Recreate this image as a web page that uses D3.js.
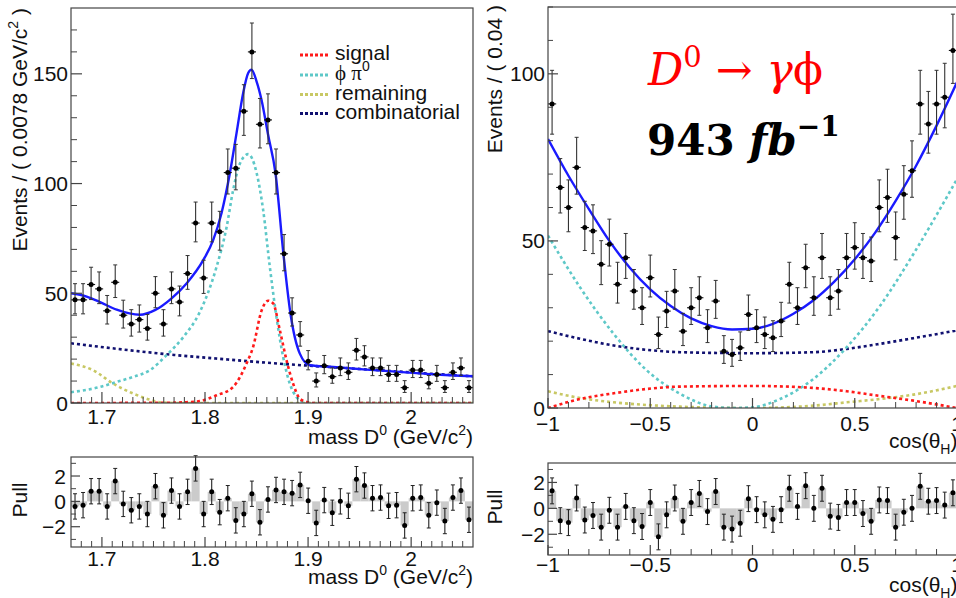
<!DOCTYPE html>
<html><head><meta charset="utf-8">
<script src="https://cdn.jsdelivr.net/npm/d3@7"></script>
<style>
body{margin:0;background:#fff}
svg{display:block}
text{font-family:"Liberation Sans",Arial,sans-serif;fill:#111}
</style>
</head><body><svg id="c" width="956" height="598"></svg>
<script>
// ---------------- DATA ----------------
const massRange = [1.67, 2.06];
const massCounts = [47,47,54,52,42,55,40,36,38,34,50,36,52,46,59,82,57,82,78,105,107,133,160,127,129,105,68,41,31,19,10,17,12,16,14,24,21,16,16,13,13,7,15,15,9,13,7,14,16,7];
const massPulls = [-0.4,-0.3,0.8,0.8,-0.4,1.6,-0.2,-0.7,-0.4,-1.0,1.2,-1.1,0.85,-0.4,0.75,2.6,-1.0,0.75,-0.85,0.25,-1.5,-1.0,0.6,-1.65,0.15,0.9,0.75,0.65,1.3,0.05,-1.7,0.1,-0.9,0,-0.35,1.75,1.25,0.25,0.3,-0.35,-0.3,-1.9,0.25,0.3,-1.1,-0.1,-1.55,0.3,0.85,-1.45];

const massTotalX = [1.670,1.6852,1.6981,1.7143,1.7369,1.7514,1.7673,1.7821,1.7983,1.8080,1.8160,1.8241,1.8306,1.8370,1.8419,1.8451,1.8500,1.8548,1.8613,1.8684,1.8761,1.8829,1.8920,1.9017,1.9243,1.9566,1.9889,2.0212,2.0600];
const massTotalY = [50,48.5,46,42.5,40.2,42.3,47.6,54.5,65.1,74.3,86.5,104.7,123,141.2,150.4,151.9,146.6,138.2,122,104.7,67.9,40.8,22.5,17.2,16.4,15.2,14.2,13.1,12.2];
const massPhiPiX = [1.670,1.6981,1.7143,1.7304,1.7466,1.7627,1.7789,1.7950,1.8112,1.8209,1.8273,1.8338,1.8419,1.8500,1.8564,1.8629,1.8694,1.8758,1.8823,1.8887,1.8952,1.9017,2.06];
const massPhiPiY = [4.9,7.3,9.6,11.9,15,21.8,30,41.5,62,80,97,109,113.4,105,88,62,39,21,8.8,2.7,0.5,0,0];
const massSignalX = [1.67,1.7627,1.7789,1.7950,1.8112,1.8273,1.8403,1.8467,1.8548,1.8613,1.8661,1.8726,1.8791,1.8855,1.8920,1.8985,1.9049,2.06];
const massSignalY = [0,0.1,0.3,0.9,3.5,7.3,18,25.6,42,46.6,45.4,33.2,19.5,8.8,2,0.5,0,0];
const massRemX = [1.67,1.6916,1.711,1.7304,1.7466,1.759,1.775,2.06];
const massRemY = [18,14.9,8.8,4.3,1.5,0.2,0,0];
const massCombX = [1.67,1.72,1.77,1.82,1.87,1.92,1.97,2.02,2.06];
const massCombY = [27.2,24.4,21.9,19.9,18.0,16.4,14.9,13.3,12.2];

const cosRange = [-1, 1];
const cosCounts = [91,66,60,72,54,53,43,49,37,45,35,30,39,22,29,35,23,30,33,24,32,17,16,18,28,24,22,21,26,37,30,42,33,45,33,35,45,48,45,44,60,63,51,64,71,91,85,91,93,107];
const cosPulls = [1.35,-0.95,-1.1,0.8,-0.9,-0.55,-1.45,-0.15,-1.45,0.15,-0.95,-1.4,0.45,-2.2,-0.5,0.8,-1.0,0.45,1.15,-0.25,1.3,-1.45,-1.6,-1.15,0.75,-0.1,-0.5,-0.85,-0.1,1.55,0.15,1.75,0,1.55,-0.6,-0.7,0.45,0.45,-0.4,-1.0,0.65,0.6,-1.45,-0.3,0,1.7,0.55,0.6,0.25,1.2];

const cosTotalX = [-1,-0.9,-0.8,-0.7,-0.6,-0.5,-0.4,-0.3,-0.2,-0.1,0,0.1,0.2,0.3,0.4,0.5,0.6,0.7,0.8,0.9,1];
const cosTotalY = [80.5,69.5,59.5,50,42,35.5,30.5,26.8,24.5,23.5,23.7,25.2,28.2,32.3,37.8,44.5,52.5,62,72.5,84.5,97.5];
const cosPhiPiX = [-1,-0.842,-0.679,-0.516,-0.353,-0.191,-0.09,0,0.135,0.298,0.461,0.624,0.787,0.95,1];
const cosPhiPiY = [51.6,36,22.2,11.2,4.2,0.4,0,0.2,2.7,8.7,18.2,30.6,46.1,63.1,68.5];
const cosCompX = [-1,-0.842,-0.679,-0.516,-0.353,0,0.298,0.461,0.624,0.787,1];
const cosCombY = [23,20.7,18.7,17.4,16.7,16.4,16.7,17.7,19.2,20.9,23.2];
const cosSignalY = [0,2.7,4.4,5.7,6.4,6.6,6,5,3.6,2.2,0];
const cosRemY = [5,3,1.7,0.9,0.4,0,0.7,1.7,2.7,4,6.6];

const massMajor = [1.7,1.8,1.9,2.0];
const massMajorLabels = ["1.7","1.8","1.9","2"];
const cosMajor = [-1,-0.5,0,0.5,1];
const cosMajorLabels = ["\u22121","\u22120.5","0","0.5","1"];
const pullMajor = [-2,0,2];
const pullLabels = ["\u22122","0","2"];

const legendNames = ["signal","phipi","remaining","combinatorial"];
const colors = {signal:"#ff1a1a", phipi:"#5ec8c8", remaining:"#c8c864", combinatorial:"#101070", total:"#1a1aff"};

// ---------------- DRAW ----------------
const svg = d3.select("#c");
let clipId = 0;

function panel(o){
  const x = d3.scaleLinear().domain(o.xDom).range([o.x0, o.x1]);
  const y = d3.scaleLinear().domain(o.yDom).range([o.yBot, o.yTop]);
  const g = svg.append("g");
  const id = "clip" + (clipId++);
  svg.append("clipPath").attr("id", id).append("rect")
    .attr("x", o.x0).attr("y", o.yTop).attr("width", o.x1 - o.x0).attr("height", o.yBot - o.yTop);
  const plot = g.append("g").attr("clip-path", `url(#${id})`);
  return {x, y, g, plot, o};
}

function frame(p, yMinor, yMajor, yLabels, xMinor, xMajor, xLabels, yLen, xLen, yLabX, xLabY){
  const {x, y, g, o} = p;
  const ax = g.append("g");
  ax.append("rect").attr("x", o.x0).attr("y", o.yTop).attr("width", o.x1 - o.x0).attr("height", o.yBot - o.yTop)
    .attr("fill", "none").attr("stroke", "#444").attr("stroke-width", 1.2);
  yMinor.forEach(v => ax.append("line").attr("x1", o.x0).attr("x2", o.x0 + yLen[1]).attr("y1", y(v)).attr("y2", y(v)).attr("stroke", "#444"));
  yMajor.forEach((v, i) => {
    ax.append("line").attr("x1", o.x0).attr("x2", o.x0 + yLen[0]).attr("y1", y(v)).attr("y2", y(v)).attr("stroke", "#444").attr("stroke-width", 1.2);
    ax.append("text").attr("x", yLabX).attr("y", y(v)).attr("dy", "0.36em").attr("text-anchor", "end")
      .attr("font-size", 21).text(yLabels[i]);
  });
  xMinor.forEach(v => ax.append("line").attr("x1", x(v)).attr("x2", x(v)).attr("y1", o.yBot).attr("y2", o.yBot - xLen[1]).attr("stroke", "#444"));
  xMajor.forEach((v, i) => {
    ax.append("line").attr("x1", x(v)).attr("x2", x(v)).attr("y1", o.yBot).attr("y2", o.yBot - xLen[0]).attr("stroke", "#444").attr("stroke-width", 1.2);
    ax.append("text").attr("x", x(v)).attr("y", xLabY).attr("text-anchor", "middle").attr("font-size", 21).text(xLabels[i]);
  });
}

function curve(p, xs, ys, color, dotted){
  const line = d3.line().x((d, i) => p.x(xs[i])).y(d => p.y(d)).curve(d3.curveMonotoneX);
  p.plot.append("path").attr("d", line(ys)).attr("fill", "none").attr("stroke", color)
    .attr("stroke-width", dotted ? 2.6 : 2.4)
    .attr("stroke-dasharray", dotted ? "3,3" : null);
}

function dataPoints(p, counts, range){
  const bw = (range[1] - range[0]) / counts.length;
  const g = p.g.append("g");
  counts.forEach((n, i) => {
    const lo = range[0] + i * bw, hi = lo + bw, c = lo + bw / 2;
    const eLo = n - (Math.sqrt(n + 0.25) - 0.5), eHi = n + (Math.sqrt(n + 0.25) + 0.5);
    const cx = p.x(c);
    g.append("line").attr("x1", cx).attr("x2", cx).attr("y1", p.y(eLo)).attr("y2", p.y(eHi)).attr("stroke", "#333").attr("stroke-width", 1.1);
    [eLo, eHi].forEach(v => g.append("line").attr("x1", cx - 2).attr("x2", cx + 2).attr("y1", p.y(v)).attr("y2", p.y(v)).attr("stroke", "#333"));
    g.append("line").attr("x1", Math.max(p.x(lo), p.o.x0)).attr("x2", p.x(hi)).attr("y1", p.y(n)).attr("y2", p.y(n)).attr("stroke", "#111").attr("stroke-width", 1.1);
    g.append("circle").attr("cx", cx).attr("cy", p.y(n)).attr("r", 2.5).attr("fill", "#000");
  });
}

function pulls(p, vals, range){
  const bw = (range[1] - range[0]) / vals.length;
  vals.forEach((v, i) => {
    const lo = range[0] + i * bw, hi = lo + bw;
    p.plot.append("rect").attr("x", p.x(lo)).attr("width", p.x(hi) - p.x(lo))
      .attr("y", Math.min(p.y(0), p.y(v))).attr("height", Math.abs(p.y(0) - p.y(v))).attr("fill", "#cbcbcb");
  });
  const g = p.g.append("g");
  vals.forEach((v, i) => {
    const cx = p.x(range[0] + (i + 0.5) * bw);
    g.append("line").attr("x1", cx).attr("x2", cx).attr("y1", p.y(v - 1)).attr("y2", p.y(v + 1)).attr("stroke", "#222").attr("stroke-width", 1.1);
    [v - 1, v + 1].forEach(e => g.append("line").attr("x1", cx - 2).attr("x2", cx + 2).attr("y1", p.y(e)).attr("y2", p.y(e)).attr("stroke", "#222"));
    g.append("circle").attr("cx", cx).attr("cy", p.y(v)).attr("r", 2.5).attr("fill", "#000");
  });
}

function rotTitle(x, y, anchor, parts){
  const t = svg.append("text").attr("transform", `translate(${x},${y}) rotate(-90)`).attr("text-anchor", anchor).attr("font-size", 21);
  parts.forEach(pt => { const s = t.append("tspan").text(pt.t); if (pt.sup) s.attr("font-size", 14).attr("dy", -9); if (pt.down) s.attr("dy", 9); });
  return t;
}

function massTitle(y){
  const t = svg.append("text").attr("x", 473).attr("y", y).attr("text-anchor", "end").attr("font-size", 21);
  t.append("tspan").text("mass D");
  t.append("tspan").attr("font-size", 14).attr("dy", -9).text("0");
  t.append("tspan").attr("dy", 9).text(" (GeV/c");
  t.append("tspan").attr("font-size", 14).attr("dy", -9).text("2");
  t.append("tspan").attr("dy", 9).text(")");
}
function cosTitle(y){
  const t = svg.append("text").attr("x", 889).attr("y", y).attr("font-size", 21);
  t.append("tspan").text("cos(\u03B8");
  t.append("tspan").attr("font-size", 14).attr("dy", 6).text("H");
  t.append("tspan").attr("dy", -6).text(")");
}

const massMinor = d3.range(168, 206).map(v => v / 100).filter(v => !massMajor.some(m => Math.abs(m - v) < 1e-6));
const cosMinor = d3.range(-9, 10).map(v => v / 10).filter(v => !cosMajor.some(m => Math.abs(m - v) < 1e-6));
const pullMinor = [-3, -1, 1, 3];

// ---- left main ----
const LM = panel({x0: 71, x1: 473, yTop: 8, yBot: 403, xDom: massRange, yDom: [0, 180]});
curve(LM, massCombX, massCombY, colors.combinatorial, true);
curve(LM, massRemX, massRemY, colors.remaining, true);
curve(LM, massPhiPiX, massPhiPiY, colors.phipi, true);
curve(LM, massSignalX, massSignalY, colors.signal, true);
dataPoints(LM, massCounts, massRange);
curve(LM, massTotalX, massTotalY, colors.total, false);
frame(LM, d3.range(10, 180, 10).filter(v => v % 50), [0, 50, 100, 150], ["0", "50", "100", "150"],
      massMinor, massMajor, massMajorLabels, [11, 6], [11, 6], 68, 424);

// legend
const legY = [60, 80, 99.5, 118.5];
legendNames.forEach((k, i) => {
  svg.append("line").attr("x1", 300).attr("x2", 328).attr("y1", legY[i] - 5).attr("y2", legY[i] - 5)
    .attr("stroke", colors[k]).attr("stroke-width", 3).attr("stroke-dasharray", "3,2");
  const t = svg.append("text").attr("x", 335).attr("y", legY[i]).attr("font-size", 21);
  if (k === "phipi") {
    t.append("tspan").style("font-family", "'Liberation Serif',serif").text("\u03D5  \u03C0");
    t.append("tspan").attr("font-size", 14).attr("dy", -9).text("0");
  } else t.text(k);
});

rotTitle(27, 8, "end", [{t: "Events / ( 0.0078 GeV/c"}, {t: "2", sup: true}, {t: " )", down: true}]);
massTitle(444);

// ---- left pull ----
const LP = panel({x0: 71, x1: 473, yTop: 457, yBot: 547, xDom: massRange, yDom: [-3.6, 3.5]});
pulls(LP, massPulls, massRange);
frame(LP, pullMinor, pullMajor, pullLabels, massMinor, massMajor, massMajorLabels, [9, 5], [10, 6], 66, 566);
rotTitle(27, 500, "middle", [{t: "Pull"}]);
massTitle(584);

// ---- right main ----
const RM = panel({x0: 548, x1: 957, yTop: 7, yBot: 408, xDom: cosRange, yDom: [0, 120]});
curve(RM, cosCompX, cosCombY, colors.combinatorial, true);
curve(RM, cosCompX, cosRemY, colors.remaining, true);
curve(RM, cosPhiPiX, cosPhiPiY, colors.phipi, true);
curve(RM, cosCompX, cosSignalY, colors.signal, true);
dataPoints(RM, cosCounts, cosRange);
curve(RM, cosTotalX, cosTotalY, colors.total, false);
frame(RM, d3.range(10, 121, 10).filter(v => v % 50), [0, 50, 100], ["0", "50", "100"],
      cosMinor, cosMajor, cosMajorLabels, [10, 5], [10, 6], 545, 431);
rotTitle(502, 5, "end", [{t: "Events / ( 0.04 )"}]);
cosTitle(448);

// annotation
{
  const t1 = svg.append("text").attr("x", 648).attr("y", 85)
    .style("font-family", "'DejaVu Serif',serif").attr("font-size", 44).style("fill", "#ff0000");
  t1.append("tspan").attr("font-style", "italic").text("D");
  t1.append("tspan").attr("font-size", 29).attr("dy", -18).text("0");
  t1.append("tspan").attr("dy", 18).text(" \u2192 ");
  t1.append("tspan").attr("font-style", "italic").text("\u03B3");
  t1.append("tspan").text("\u03D5");
  const t2 = svg.append("text").attr("x", 647).attr("y", 155)
    .style("font-family", "'DejaVu Serif',serif").attr("font-size", 42).attr("font-weight", "bold").style("fill", "#000");
  t2.append("tspan").text("943 ");
  t2.append("tspan").attr("font-style", "italic").text("fb");
  t2.append("tspan").attr("font-size", 28).attr("dy", -19).text("\u22121");
}

// ---- right pull ----
const RP = panel({x0: 548, x1: 957, yTop: 463, yBot: 555, xDom: cosRange, yDom: [-3.6, 3.5]});
pulls(RP, cosPulls, cosRange);
frame(RP, pullMinor, pullMajor, pullLabels, cosMinor, cosMajor, cosMajorLabels, [9, 5], [10, 6], 545, 572);
rotTitle(502, 507, "middle", [{t: "Pull"}]);
cosTitle(592);
</script>
</body></html>
